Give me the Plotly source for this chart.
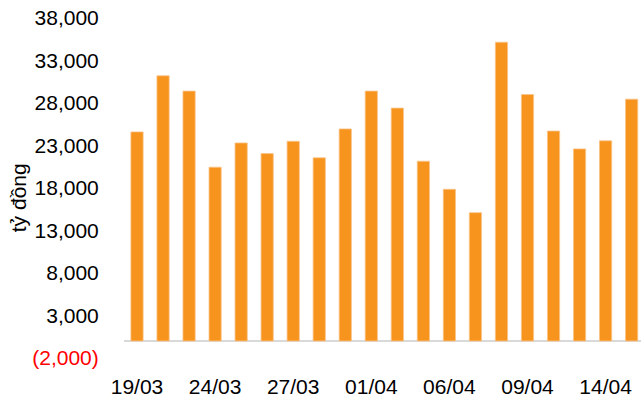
import plotly.graph_objects as go

dates = ["19/03", "20/03", "23/03", "24/03", "25/03", "26/03", "27/03", "30/03", "31/03", "01/04",
         "02/04", "03/04", "06/04", "07/04", "08/04", "09/04", "10/04", "13/04", "14/04", "15/04"]
values = [24600, 31200, 29400, 20450, 23300, 22050, 23500, 21550, 24950, 29400,
          27400, 21150, 17850, 15100, 35150, 29000, 24700, 22600, 23550, 28450]
shown_dates = dates[::3]
y_ticks = [-2000, 3000, 8000, 13000, 18000, 23000, 28000, 33000, 38000]
y_labels = ["<span style='color:#FF0000'>(2,000)</span>", "3,000", "8,000", "13,000", "18,000",
            "23,000", "28,000", "33,000", "38,000"]

FONT = "Liberation Sans, Arial, sans-serif"

fig = go.Figure()
fig.add_trace(go.Bar(
    x=dates, y=values,
    marker=dict(color="#F7941D", line=dict(color="#FAC48A", width=0.8)),
))

fig.update_layout(
    width=641, height=401,
    margin=dict(l=124, r=0, t=18, b=43),
    paper_bgcolor="white", plot_bgcolor="white",
    bargap=0.53,
    showlegend=False,
    font=dict(family=FONT, size=21, color="#000000"),
)
fig.update_xaxes(
    type="category",
    range=[-0.5, 19.36],
    tickmode="array", tickvals=shown_dates, ticktext=shown_dates,
    ticks="outside", ticklen=10, tickcolor="rgba(0,0,0,0)",
    showgrid=False, showline=False, zeroline=False,
    tickfont=dict(family=FONT, size=21, color="#000000"),
)
fig.update_yaxes(
    range=[-2000, 38000],
    tickmode="array", tickvals=y_ticks, ticktext=y_labels,
    ticks="outside", ticklen=20, tickcolor="rgba(0,0,0,0)",
    ticklabeloverflow="allow",
    showgrid=False, showline=False,
    zeroline=True, zerolinecolor="#D9D9D9", zerolinewidth=2,
    tickfont=dict(family=FONT, size=21, color="#000000"),
)
fig.add_annotation(
    text="tỷ đồng", textangle=-90,
    xref="paper", yref="paper", x=-0.205, y=0.47,
    xanchor="center", yanchor="middle", showarrow=False,
    font=dict(family=FONT, size=21, color="#000000"),
)

fig.write_html(
    "out.html",
    config={"displayModeBar": False},
    post_script="document.body.style.margin='0';document.body.style.overflow='hidden';",
)
